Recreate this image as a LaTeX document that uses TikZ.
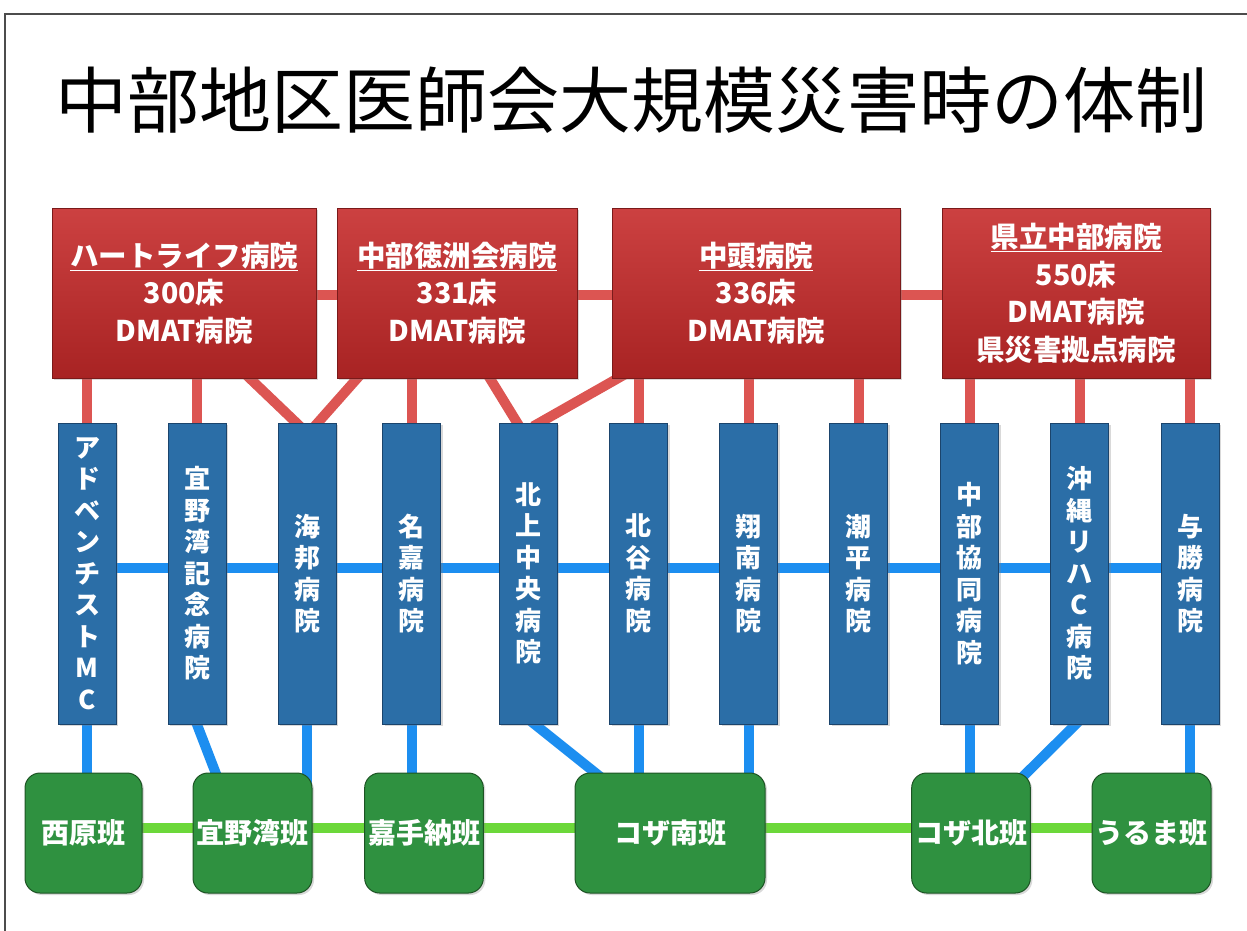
\documentclass[tikz,border=0pt]{standalone}
\usepackage{fontspec}
\setmainfont{Noto Sans CJK JP}
\usetikzlibrary{shadows,backgrounds}

\definecolor{hosptop}{HTML}{CC4141}
\definecolor{hospbot}{HTML}{A82323}
\definecolor{hospline}{HTML}{7A1A1A}
\definecolor{redlink}{HTML}{DC5552}
\definecolor{clinfill}{HTML}{2B6EA7}
\definecolor{clinline}{HTML}{1B446C}
\definecolor{bluelink}{HTML}{1C8EF0}
\definecolor{teamfill}{HTML}{2F9140}
\definecolor{teamline}{HTML}{1D5424}
\definecolor{greenlink}{HTML}{6CD83A}

\begin{document}
\begin{tikzpicture}[x=1pt, y=-1pt,
    hosp/.style={draw=hospline, line width=1pt, top color=hosptop, bottom color=hospbot,
                 minimum height=170pt, align=center, text=white,
                 font=\fontsize{28.5}{37.5}\selectfont\bfseries,
                 drop shadow={shadow xshift=2pt, shadow yshift=-2pt, opacity=0.3}},
    clin/.style={draw=clinline, line width=1pt, fill=clinfill, minimum width=58pt,
                 minimum height=301pt, inner sep=0pt, align=center, text=white,
                 font=\fontsize{26}{31.5}\selectfont\bfseries,
                 drop shadow={shadow xshift=2pt, shadow yshift=-2pt, opacity=0.3}},
    team/.style={draw=teamline, line width=1pt, fill=teamfill, rounded corners=15pt,
                 minimum height=120pt, text=white, font=\fontsize{28}{34}\selectfont\bfseries,
                 drop shadow={shadow xshift=2pt, shadow yshift=-2pt, opacity=0.3}},
    redln/.style={draw=redlink, line width=10pt},
    blueln/.style={draw=bluelink, line width=10pt},
    greenln/.style={draw=greenlink, line width=10pt},
    slant/.style={shorten <=-8pt, shorten >=-8pt}
  ]
  \useasboundingbox (0,0) rectangle (1247,930);
  \clip (0,0) rectangle (1247,930);

  % frame and title
  \draw[black!70, line width=1.5pt] (5,940) -- (5,14) -- (1260,14);
  \node[font=\fontsize{72}{80}\selectfont] (title) at (631,100) {中部地区医師会大規模災害時の体制};

  % hospitals
  \node[hosp, minimum width=264pt] (h1) at (184,293) {\underline{ハートライフ病院}\\300床\\DMAT病院};
  \node[hosp, minimum width=240pt] (h2) at (457,293) {\underline{中部徳洲会病院}\\331床\\DMAT病院};
  \node[hosp, minimum width=288pt] (h3) at (756,293) {\underline{中頭病院}\\336床\\DMAT病院};
  \node[hosp, minimum width=268pt] (h4) at (1076,293) {\underline{県立中部病院}\\550床\\DMAT病院\\県災害拠点病院};

  % clinics
  \node[clin] (c1) at (87,573.5) {ア\\ド\\ベ\\ン\\チ\\ス\\ト\\M\\C};
  \node[clin] (c2) at (197,573.5) {宜\\野\\湾\\記\\念\\病\\院};
  \node[clin] (c3) at (307,573.5) {海\\邦\\病\\院};
  \node[clin] (c4) at (411.5,573.5) {名\\嘉\\病\\院};
  \node[clin] (c5) at (528,573.5) {北\\上\\中\\央\\病\\院};
  \node[clin] (c6) at (638.5,573.5) {北\\谷\\病\\院};
  \node[clin] (c7) at (748.5,573.5) {翔\\南\\病\\院};
  \node[clin] (c8) at (858.5,573.5) {潮\\平\\病\\院};
  \node[clin] (c9) at (969.5,573.5) {中\\部\\協\\同\\病\\院};
  \node[clin] (c10) at (1079.5,573.5) {沖\\縄\\リ\\ハ\\C\\病\\院};
  \node[clin] (c11) at (1190,573.5) {与\\勝\\病\\院};

  % teams
  \node[team, minimum width=117pt] (g1) at (83.5,833) {西原班};
  \node[team, minimum width=119pt] (g2) at (252.5,833) {宜野湾班};
  \node[team, minimum width=118pt] (g3) at (424,833) {嘉手納班};
  \node[team, minimum width=190pt] (g4) at (670,833) {コザ南班};
  \node[team, minimum width=118pt] (g5) at (971,833) {コザ北班};
  \node[team, minimum width=119pt] (g6) at (1151.5,833) {うるま班};

  \begin{pgfonlayer}{background}
  % red links
  \draw[redln] ([yshift=-2pt]h1.center) -- ([yshift=-2pt]h4.center);
  \foreach \c/\h in {c1/h1, c2/h1, c4/h2, c6/h3, c7/h3, c8/h3, c9/h4, c10/h4, c11/h4}
    \draw[redln] (\c.center) -- (\c.center |- \h.center);
  \draw[redln, slant] ([xshift=66pt]h1.south) -- ([xshift=-11pt]c3.north);
  \draw[redln, slant] ([xshift=-100pt]h2.south) -- ([xshift=11pt]c3.north);
  \draw[redln, slant] ([xshift=33pt]h2.south) -- ([xshift=-11pt]c5.north);
  \draw[redln, slant] ([xshift=6pt]h3.south west) -- ([xshift=12pt]c5.north);

  % blue links
  \draw[blueln] ([yshift=6pt]c1.center) -- ([yshift=6pt]c11.center);
  \foreach \c/\g in {c1/g1, c3/g2, c4/g3, c6/g4, c7/g4, c9/g5, c11/g6}
    \draw[blueln] (\c.center) -- (\c.center |- \g.center);
  \draw[blueln, slant] (c2.south) -- ([xshift=-37pt]g2.north);
  \draw[blueln, slant] ([xshift=7pt]c5.south) -- ([xshift=-75pt]g4.north);
  \draw[blueln, slant] ([xshift=-4pt]c10.south) -- ([xshift=56pt]g5.north);

  % green links
  \draw[greenln] ([yshift=5pt]g1.center) -- ([yshift=5pt]g6.center);
  \end{pgfonlayer}
\end{tikzpicture}
\end{document}
